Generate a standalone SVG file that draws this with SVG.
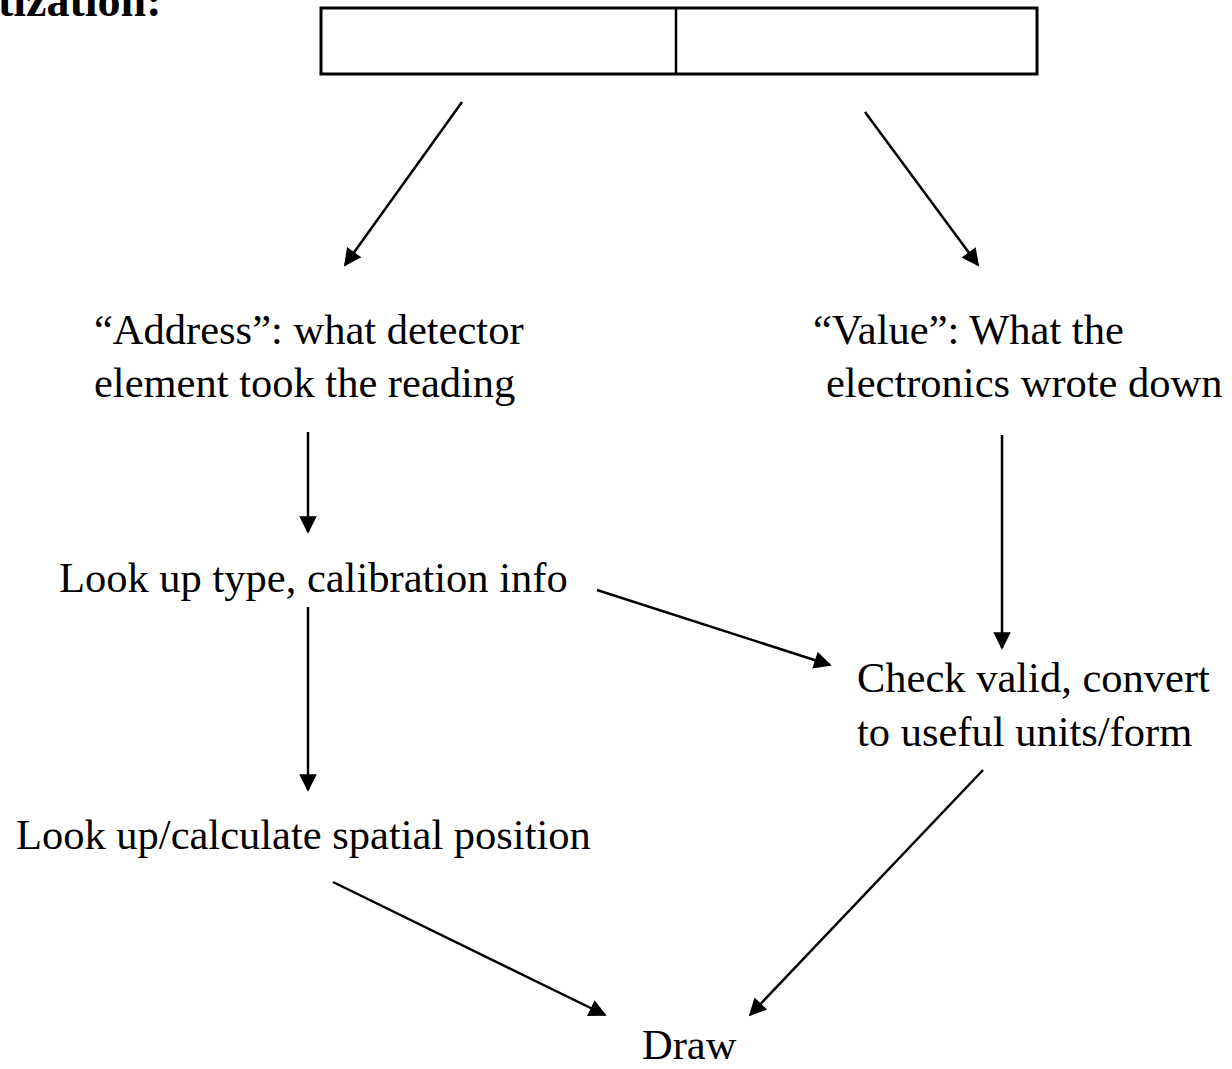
<svg xmlns="http://www.w3.org/2000/svg" width="1232" height="1069" viewBox="0 0 1232 1069">
<defs>
<style>
.t{font-family:"Liberation Serif","Times New Roman",serif;font-size:42.5px;fill:#000}
.h{font-family:"Liberation Serif","Times New Roman",serif;font-size:46px;font-weight:bold;fill:#000}
.c{stroke:#000;stroke-width:2.5;fill:none;marker-end:url(#ah)}
</style>
<marker id="ah" viewBox="0 0 10 10" refX="9" refY="5" markerWidth="7.5" markerHeight="7" markerUnits="strokeWidth" orient="auto">
<path d="M0,0 L10,5 L0,10 z" fill="#000"/>
</marker>
</defs>
<rect width="1232" height="1069" fill="#fff"/>
<g id="title"><text class="h" x="-2" y="16">tization:</text></g>
<g id="word">
<rect x="321" y="8" width="716" height="66" fill="#fff" stroke="#000" stroke-width="3"/>
<line x1="676" y1="8" x2="676" y2="74" stroke="#000" stroke-width="2.5"/>
</g>
<g id="address"><text class="t" x="94" y="344">“Address”: what detector</text><text class="t" x="94" y="397">element took the reading</text></g>
<g id="value"><text class="t" x="813" y="344">“Value”: What the</text><text class="t" x="826" y="397">electronics wrote down</text></g>
<g id="lookup"><text class="t" x="59" y="592">Look up type, calibration info</text></g>
<g id="check"><text class="t" x="857" y="692">Check valid, convert</text><text class="t" x="857" y="746">to useful units/form</text></g>
<g id="spatial"><text class="t" x="16" y="849">Look up/calculate spatial position</text></g>
<g id="draw"><text class="t" x="642" y="1059">Draw</text></g>
<g id="connectors">
<line class="c" x1="462" y1="102" x2="345" y2="265"/>
<line class="c" x1="865" y1="112" x2="978" y2="265"/>
<line class="c" x1="308" y1="432" x2="308" y2="532"/>
<line class="c" x1="1002" y1="435" x2="1002" y2="648"/>
<line class="c" x1="597" y1="590" x2="830" y2="665"/>
<line class="c" x1="308" y1="607" x2="308" y2="790"/>
<line class="c" x1="333" y1="882" x2="605" y2="1015"/>
<line class="c" x1="983" y1="770" x2="750" y2="1015"/>
</g>
</svg>
